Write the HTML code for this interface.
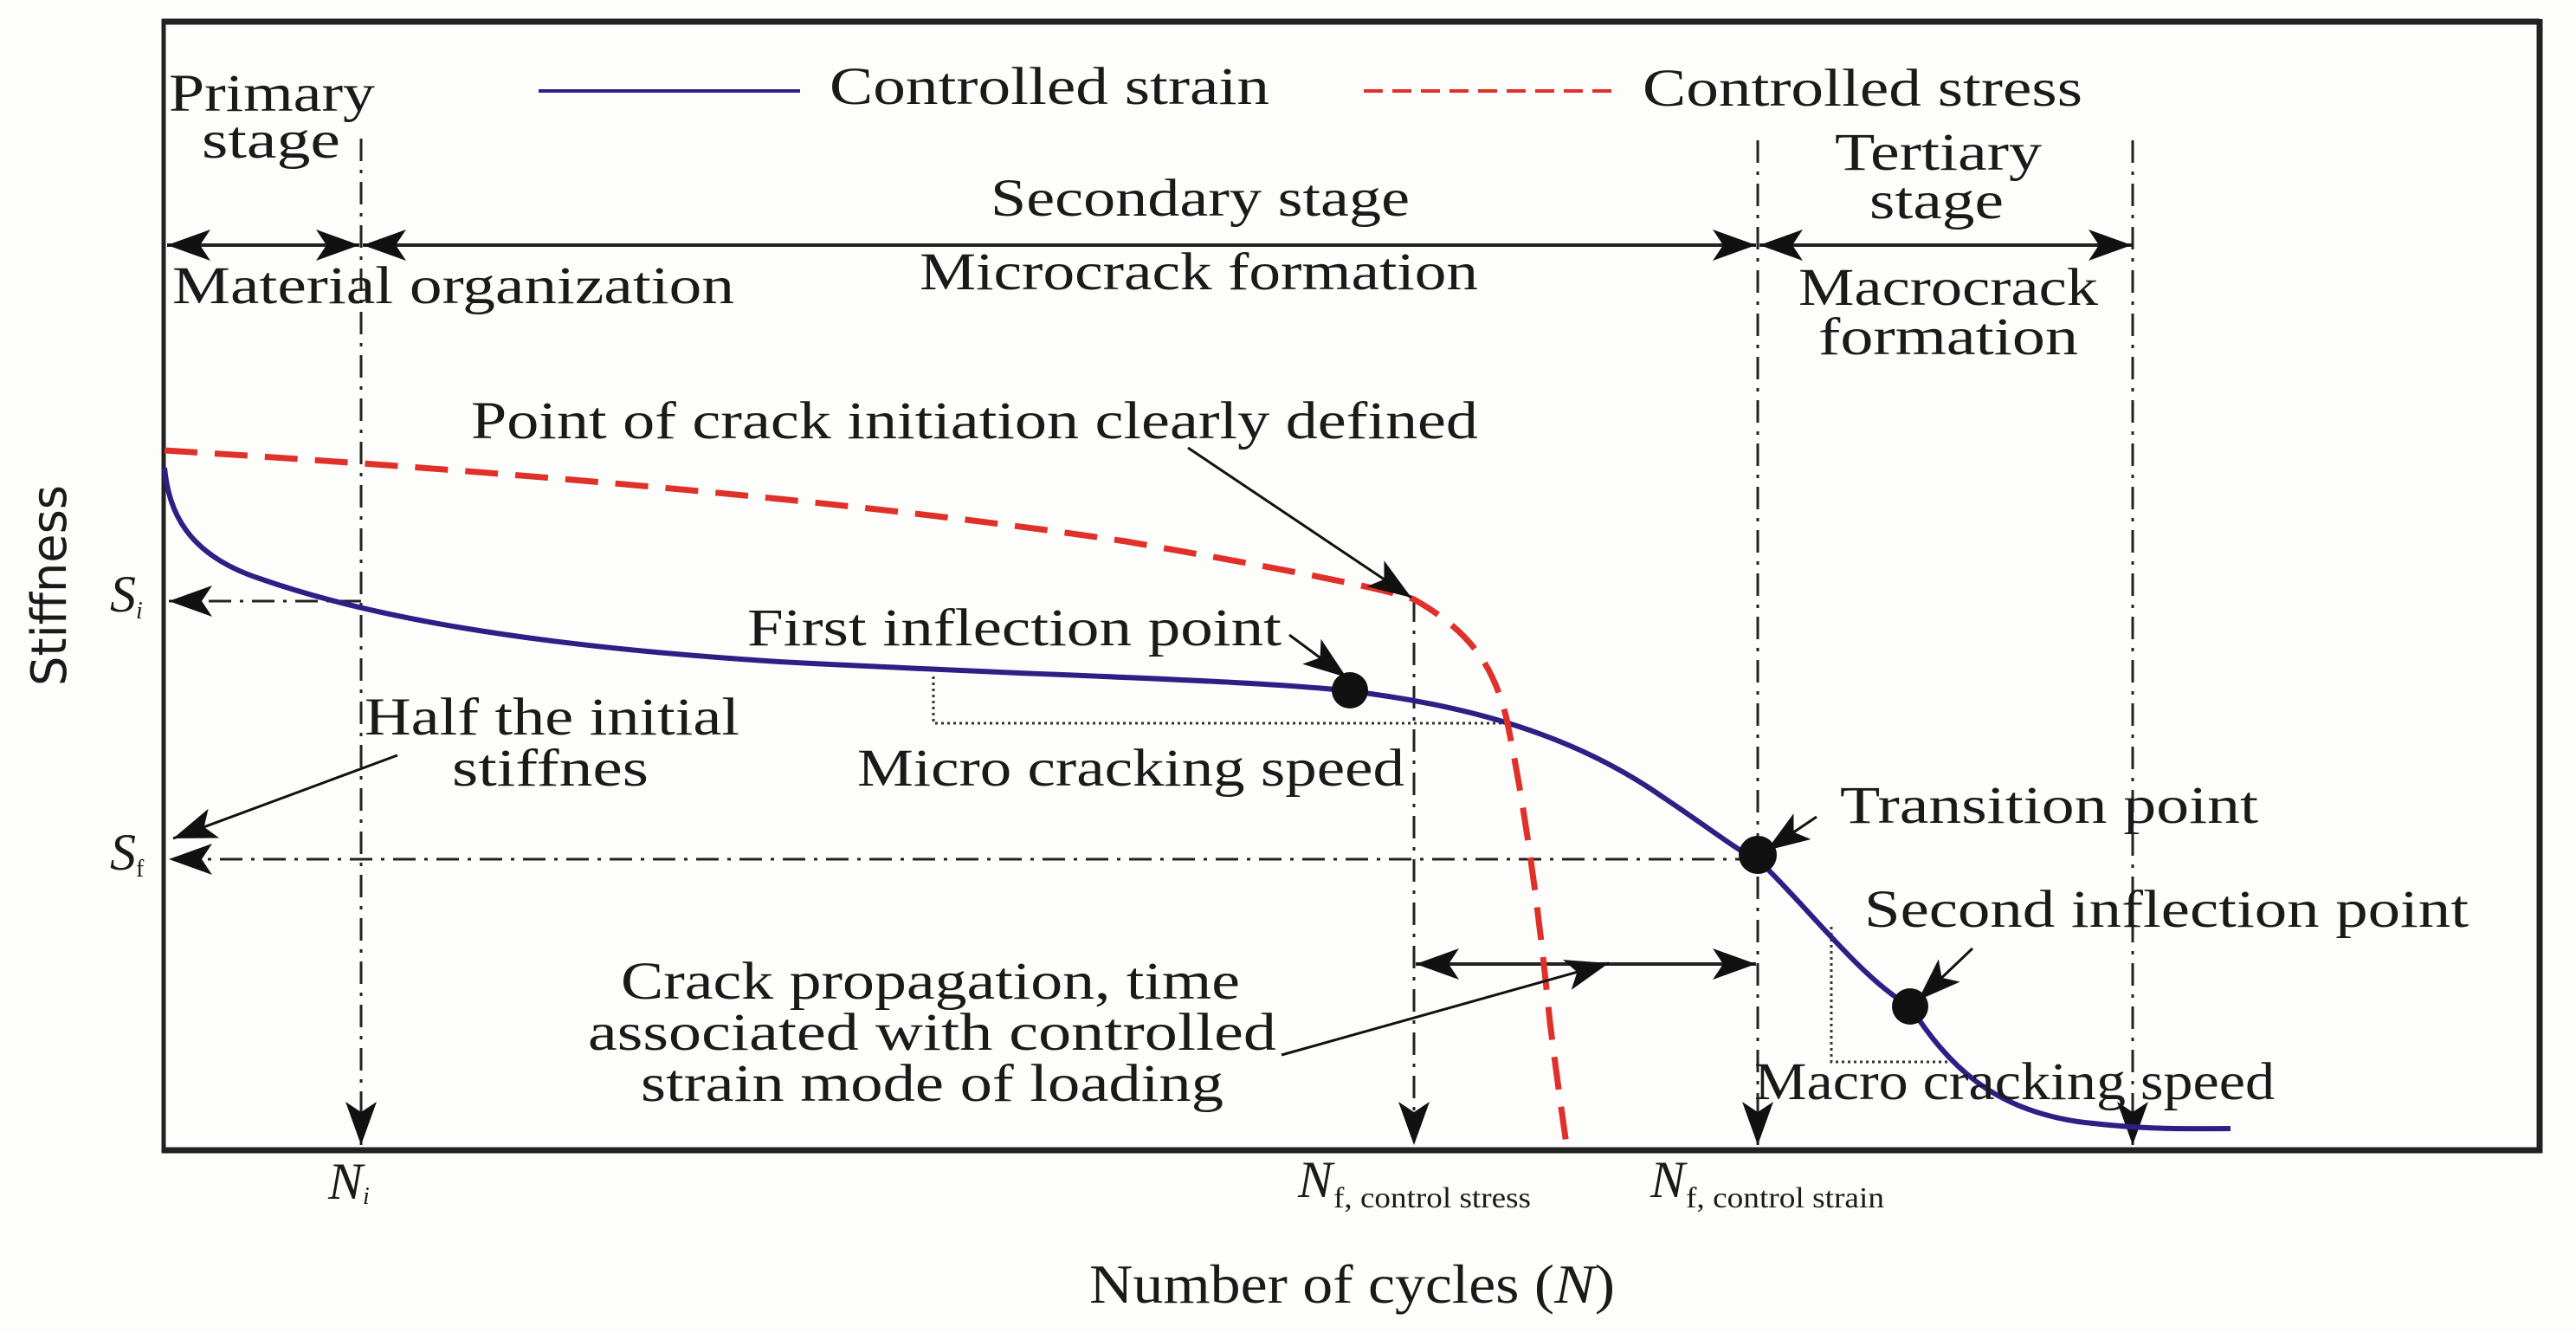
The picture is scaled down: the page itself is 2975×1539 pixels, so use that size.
<!DOCTYPE html>
<html><head><meta charset="utf-8"><style>
html,body{margin:0;padding:0;background:#fdfdfc;}
svg{display:block;}
text{font-family:"Liberation Serif",serif;fill:#1a1a1a;}
</style></head><body>
<svg width="2975" height="1539" viewBox="0 0 2975 1539" xmlns="http://www.w3.org/2000/svg">
<defs>
<marker id="ah" viewBox="0 0 50 36" refX="50" refY="18" markerWidth="50" markerHeight="36" markerUnits="userSpaceOnUse" orient="auto-start-reverse">
<path d="M0,0 L50,18 L0,36 L12,18 Z" fill="#111"/>
</marker>
</defs>
<rect width="2975" height="1539" fill="#fdfdfc"/>
<line x1="187" y1="25" x2="2933" y2="25" stroke="#222" stroke-width="7"/>
<line x1="2933" y1="22" x2="2933" y2="1331" stroke="#222" stroke-width="7"/>
<line x1="187" y1="1328" x2="2936" y2="1328" stroke="#222" stroke-width="7"/>
<line x1="189" y1="22" x2="189" y2="1331" stroke="#222" stroke-width="5"/>

<g stroke="#222" stroke-width="3" stroke-dasharray="26,10,4,10" fill="none">
<line x1="417" y1="160" x2="417" y2="1322" marker-end="url(#ah)"/>
<line x1="1633" y1="692" x2="1633" y2="1322" marker-end="url(#ah)"/>
<line x1="2030" y1="162" x2="2030" y2="1322" marker-end="url(#ah)"/>
<line x1="2463" y1="162" x2="2463" y2="1322" marker-end="url(#ah)"/>
<line x1="417" y1="694" x2="195" y2="694" marker-end="url(#ah)"/>
<line x1="2030" y1="992" x2="195" y2="992" marker-end="url(#ah)"/>
</g>

<g stroke="#222" stroke-width="4" fill="none">
<line x1="193" y1="283" x2="415" y2="283" marker-start="url(#ah)" marker-end="url(#ah)"/>
<line x1="419" y1="283" x2="2028" y2="283" marker-start="url(#ah)" marker-end="url(#ah)"/>
<line x1="2032" y1="283" x2="2462" y2="283" marker-start="url(#ah)" marker-end="url(#ah)"/>
<line x1="1635" y1="1113" x2="2028" y2="1113" marker-start="url(#ah)" marker-end="url(#ah)"/>
</g>

<line x1="622" y1="105" x2="924" y2="105" stroke="#2e1f86" stroke-width="4"/>
<line x1="1575" y1="105" x2="1869" y2="105" stroke="#e0302a" stroke-width="4" stroke-dasharray="22,11"/>

<g stroke="#333" stroke-width="3" stroke-dasharray="3,4" fill="none">
<polyline points="1078,781 1078,835 1736,835"/>
<polyline points="2115,1070 2115,1226 2250,1226"/>
</g>

<path d="M190,540 C195,590 215,640 300,668 C420,710 600,745 900,764 C1200,780 1450,785 1560,798 C1700,815 1820,850 1920,920 C1980,960 2010,985 2030,992 C2090,1050 2150,1130 2206,1162 C2250,1230 2300,1280 2400,1295 C2480,1305 2530,1303 2576,1303" fill="none" stroke="#2e1f86" stroke-width="6"/>
<path d="M190,520 C600,545 1000,580 1300,625 C1500,660 1600,680 1633,692 C1700,730 1725,770 1740,830 C1765,950 1780,1080 1790,1180 C1800,1260 1806,1300 1810,1328" fill="none" stroke="#e0302a" stroke-width="7" stroke-dasharray="38,20"/>

<circle cx="1559" cy="797" r="21" fill="#111"/>
<circle cx="2030" cy="987" r="22" fill="#111"/>
<circle cx="2206" cy="1162" r="21" fill="#111"/>

<g stroke="#111" stroke-width="3" fill="none">
<line x1="1372" y1="517" x2="1630" y2="690" marker-end="url(#ah)"/>
<line x1="1489" y1="733" x2="1555" y2="782" marker-end="url(#ah)"/>
<line x1="459" y1="872" x2="200" y2="968" marker-end="url(#ah)"/>
<line x1="2098" y1="943" x2="2040" y2="982" marker-end="url(#ah)"/>
<line x1="2278" y1="1095" x2="2215" y2="1155" marker-end="url(#ah)"/>
<line x1="1480" y1="1218" x2="1858" y2="1112" marker-end="url(#ah)"/>
</g>

<g font-size="61">
<text x="958" y="120" textLength="508" lengthAdjust="spacingAndGlyphs">Controlled strain</text>
<text x="1897" y="122" textLength="508" lengthAdjust="spacingAndGlyphs">Controlled stress</text>
<text x="195" y="128" textLength="238" lengthAdjust="spacingAndGlyphs">Primary</text>
<text x="233" y="182" textLength="160" lengthAdjust="spacingAndGlyphs">stage</text>
<text x="1144" y="249" textLength="484" lengthAdjust="spacingAndGlyphs">Secondary stage</text>
<text x="2119" y="196" textLength="239" lengthAdjust="spacingAndGlyphs">Tertiary</text>
<text x="2159" y="252" textLength="155" lengthAdjust="spacingAndGlyphs">stage</text>
<text x="199" y="350" textLength="649" lengthAdjust="spacingAndGlyphs">Material organization</text>
<text x="1062" y="334" textLength="645" lengthAdjust="spacingAndGlyphs">Microcrack formation</text>
<text x="2077" y="352" textLength="346" lengthAdjust="spacingAndGlyphs">Macrocrack</text>
<text x="2100" y="409" textLength="300" lengthAdjust="spacingAndGlyphs">formation</text>
<text x="544" y="506" textLength="1163" lengthAdjust="spacingAndGlyphs">Point of crack initiation clearly defined</text>
<text x="863" y="745" textLength="617" lengthAdjust="spacingAndGlyphs">First inflection point</text>
<text x="421" y="848" textLength="433" lengthAdjust="spacingAndGlyphs">Half the initial</text>
<text x="522" y="907" textLength="227" lengthAdjust="spacingAndGlyphs">stiffnes</text>
<text x="990" y="907" textLength="632" lengthAdjust="spacingAndGlyphs">Micro cracking speed</text>
<text x="2125" y="950" textLength="483" lengthAdjust="spacingAndGlyphs">Transition point</text>
<text x="2153" y="1070" textLength="698" lengthAdjust="spacingAndGlyphs">Second inflection point</text>
<text x="717" y="1153" textLength="715" lengthAdjust="spacingAndGlyphs">Crack propagation, time</text>
<text x="679" y="1212" textLength="795" lengthAdjust="spacingAndGlyphs">associated with controlled</text>
<text x="740" y="1271" textLength="673" lengthAdjust="spacingAndGlyphs">strain mode of loading</text>
<text x="2026" y="1269" textLength="601" lengthAdjust="spacingAndGlyphs">Macro cracking speed</text>
<text x="1258" y="1504" font-size="64" textLength="607" lengthAdjust="spacingAndGlyphs">Number of cycles (<tspan font-style="italic">N</tspan>)</text>
</g>
<g font-style="italic" font-size="60">
<text x="379" y="1384">N<tspan font-size="28" dy="6">i</tspan></text>
<text x="1499" y="1382">N</text>
<text x="1540" y="1394" font-style="normal" font-size="34" textLength="228" lengthAdjust="spacingAndGlyphs">f, control stress</text>
<text x="1906" y="1382">N</text>
<text x="1947" y="1394" font-style="normal" font-size="34" textLength="229" lengthAdjust="spacingAndGlyphs">f, control strain</text>
<text x="127" y="706">S<tspan font-size="28" dy="8">i</tspan></text>
<text x="127" y="1004">S<tspan font-size="28" dy="8" font-style="normal">f</tspan></text>
</g>
<text x="0" y="0" transform="translate(76,792) rotate(-90)" font-size="56" textLength="232" lengthAdjust="spacingAndGlyphs" style="font-family:'DejaVu Sans',sans-serif">Stiffness</text>
</svg>
</body></html>
